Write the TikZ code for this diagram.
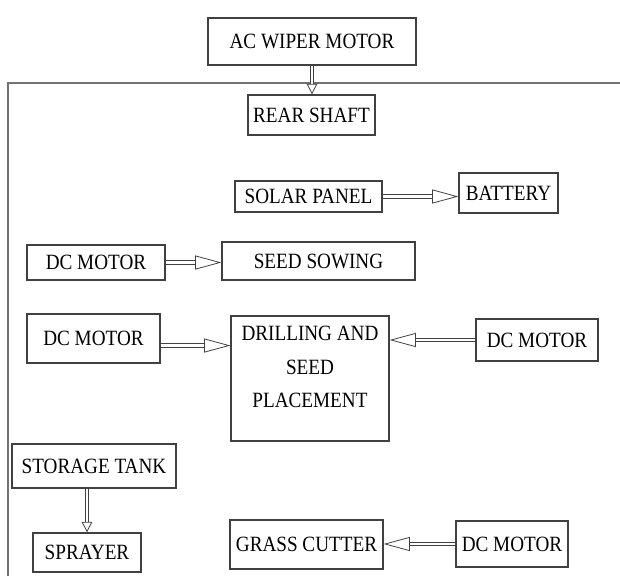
\documentclass[tikz,border=0pt]{standalone}
\usepackage{fontspec}
\setmainfont[FakeStretch=0.88]{Liberation Serif}
\usetikzlibrary{arrows.meta,positioning}

\begin{document}
\begin{tikzpicture}[x=0.02cm,y=-0.02cm,
    every node/.style={font=\fontsize{12.4}{19}\selectfont},
    blk/.style={draw=black!75,line width=0.7pt,align=center,inner sep=0pt},
    flow/.style={draw=black!75,double,double distance=1.6pt,line width=0.45pt,
      -{Triangle[open,length=15pt,width=8pt]}},
    flowv/.style={flow,-{Triangle[open,length=6pt,width=6pt]}}]
  \useasboundingbox (0,0) rectangle (620,576);
  %% Frame
  \draw[black!55,line width=1.1pt] (8,576) -- (8,83) -- (620,83);
  %% Blocks
  \foreach \n/\x/\y/\w/\h/\t in {
      ac/312/41.5/4.16/0.94/{AC WIPER MOTOR},
      rear/311.5/115/2.54/0.80/{REAR SHAFT},
      solar/308.5/196.5/2.94/0.62/{SOLAR PANEL},
      battery/508.5/193/1.98/0.80/{BATTERY},
      dcsow/96/262.5/2.76/0.70/{DC MOTOR},
      sow/318.5/261/3.86/0.76/{SEED SOWING},
      dcleft/93.5/338.5/2.66/0.98/{DC MOTOR},
      drill/310/378.5/3.16/2.50/{DRILLING AND\\SEED\\PLACEMENT\\[-6pt]\mbox{}},
      dcright/537/340/2.44/0.84/{DC MOTOR},
      tank/94/466/3.28/0.88/{STORAGE TANK},
      spray/87/552.5/2.16/0.78/{SPRAYER},
      grass/306.5/544.5/3.06/0.98/{GRASS CUTTER},
      dcgrass/512/544/2.24/0.92/{DC MOTOR}}{
    \node[blk,minimum width=\w cm,minimum height=\h cm] (\n) at (\x,\y) {\t};
  }
  %% Connectors
  \draw[flowv] (ac.south) -- (ac.south |- rear.north);
  \draw[flow] (solar.east) -- (solar.east -| battery.west);
  \draw[flow] (dcsow.east) -- (dcsow.east -| sow.west);
  \draw[flow] ([yshift=-4pt]dcleft.east) -- ([yshift=-4pt]dcleft.east -| drill.west);
  \draw[flow] (dcright.west) -- (dcright.west -| drill.east);
  \draw[flowv] (spray.north |- tank.south) -- (spray.north);
  \draw[flow] (dcgrass.west) -- (dcgrass.west -| grass.east);
\end{tikzpicture}
\end{document}
